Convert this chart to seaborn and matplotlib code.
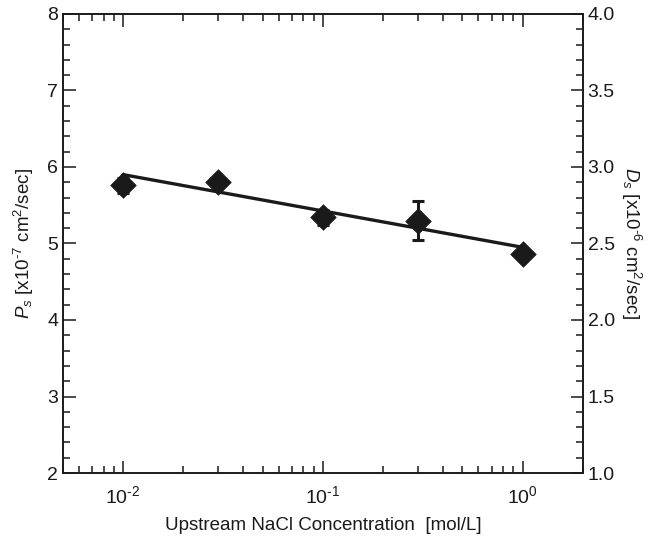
import matplotlib
matplotlib.use('Agg')
import matplotlib.pyplot as plt
from matplotlib.ticker import (LogLocator, MultipleLocator, NullFormatter,
                               FixedLocator, FixedFormatter)
import numpy as np
import pandas as pd
import seaborn as sns

# -----------------------------------------------------------------------
# Data
conc = [0.01, 0.03, 0.1, 0.3, 1.0]          # mol/L
ps = [5.76, 5.81, 5.34, 5.30, 4.86]         # x1e-7 cm2/sec
ps_err = [0.10, 0.06, 0.10, 0.25, 0.05]
fit_conc = [0.01, 1.0]
fit_ps = [5.90, 4.95]
xticks = [0.01, 0.1, 1.0]
xtick_labels = [r'10$^{\text{-}2}$', r'10$^{\text{-}1}$', r'10$^{0}$']

pts = pd.DataFrame({'conc': conc, 'ps': ps, 'err': ps_err})
fit = pd.DataFrame({'conc': fit_conc, 'ps': fit_ps})

# -----------------------------------------------------------------------
sns.set_style('ticks')
plt.rcParams['font.family'] = ['Liberation Sans', 'DejaVu Sans']
plt.rcParams['mathtext.fontset'] = 'custom'
plt.rcParams['mathtext.rm'] = 'Liberation Sans'
plt.rcParams['mathtext.it'] = 'Liberation Sans:italic'
plt.rcParams['axes.unicode_minus'] = False
plt.rcParams['axes.linewidth'] = 1.2

ink = '#1a1a1a'
fig = plt.figure(figsize=(6.54, 5.36), dpi=100)
ax = fig.add_axes([0.0963, 0.1175, 0.7947, 0.8565])

# Fit line
sns.lineplot(data=fit, x='conc', y='ps', color=ink, lw=2.4,
             estimator=None, ax=ax)
# Error bars and points
ax.errorbar(pts.conc, pts.ps, yerr=pts.err, fmt='none', ecolor=ink,
            elinewidth=2.2, capsize=4, capthick=2.2, zorder=3)
sns.scatterplot(data=pts, x='conc', y='ps', marker='D', s=170,
                color=ink, edgecolor=ink, linewidth=0.5,
                zorder=4, ax=ax)

ax.set_xscale('log')
ax.set_xlim(0.005, 2)
ax.set_ylim(2, 8)
ax.yaxis.set_major_locator(MultipleLocator(1))
ax.yaxis.set_minor_locator(MultipleLocator(0.2))
ax.xaxis.set_major_locator(FixedLocator(xticks))
ax.xaxis.set_major_formatter(FixedFormatter(xtick_labels))
ax.xaxis.set_minor_locator(LogLocator(base=10, subs=np.arange(2, 10), numticks=20))
ax.xaxis.set_minor_formatter(NullFormatter())
ax.tick_params(which='both', direction='in', top=True, right=False,
               labelsize=14, width=1.1, colors=ink)
ax.tick_params(which='major', length=9)
ax.tick_params(which='minor', length=5)
ax.tick_params(axis='x', labelsize=14, pad=9)

ax.set_xlabel('Upstream NaCl Concentration  [mol/L]', fontsize=13.5,
              color=ink, labelpad=7)
ax.set_ylabel(r'$\mathit{P_s}$ [x10$^{\text{-}7}$ cm$^2$/sec]', fontsize=13.5,
              color=ink, labelpad=8)

# Right axis (D_s)
ax2 = ax.twinx()
ax2.set_ylim(1.0, 4.0)
ax2.yaxis.set_major_locator(MultipleLocator(0.5))
ax2.yaxis.set_minor_locator(MultipleLocator(0.1))
ax2.yaxis.set_major_formatter(plt.FormatStrFormatter('%.1f'))
ax2.tick_params(which='both', direction='in', labelsize=14, width=1.1,
                colors=ink)
ax2.tick_params(which='major', length=9)
ax2.tick_params(which='minor', length=5)
ax2.set_ylabel(r'$\mathit{D_s}$ [x10$^{\text{-}6}$ cm$^2$/sec]', fontsize=13.5,
               color=ink, rotation=270, labelpad=20)

for a in (ax, ax2):
    for sp in a.spines.values():
        sp.set_color(ink)
        sp.set_visible(True)

fig.savefig('out.png', dpi=100, facecolor='white')
